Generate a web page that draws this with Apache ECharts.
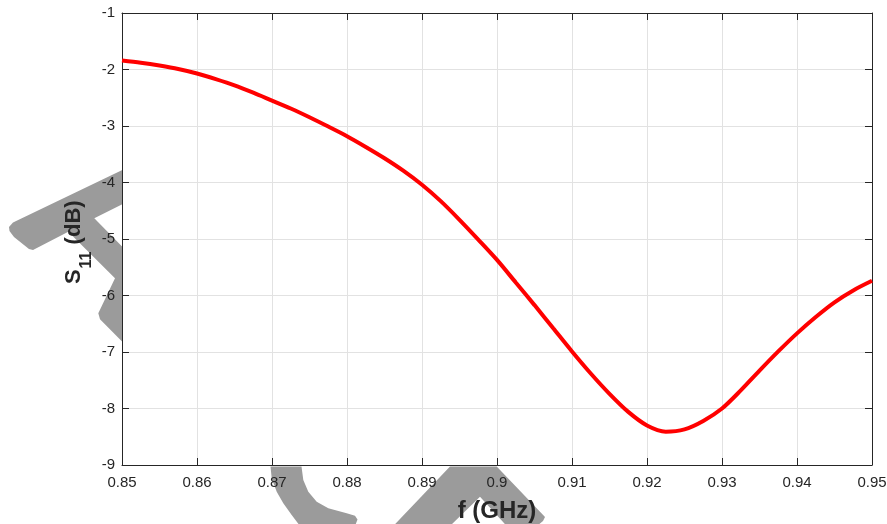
<!DOCTYPE html>
<html>
<head>
<meta charset="utf-8">
<script src="https://cdn.jsdelivr.net/npm/echarts@6/dist/echarts.min.js"></script>
<style>
  html, body { margin: 0; padding: 0; background: #ffffff; overflow: hidden; }
  #chart { width: 887px; height: 524px; }
</style>
</head>
<body>
<div id="chart"></div>
<script>
// Reflection coefficient S11 versus frequency
const freqGHz = [0.85, 0.8525, 0.855, 0.8575, 0.86, 0.8625, 0.865, 0.8675, 0.87, 0.8725,
                 0.875, 0.8775, 0.88, 0.8825, 0.885, 0.8875, 0.89, 0.8925, 0.895, 0.8975,
                 0.90, 0.9025, 0.905, 0.9075, 0.91, 0.9125, 0.915, 0.9175, 0.92, 0.9225,
                 0.925, 0.9275, 0.93, 0.9325, 0.935, 0.9375, 0.94, 0.9425, 0.945, 0.9475, 0.95];
const s11dB = [-1.84, -1.88, -1.93, -1.99, -2.07, -2.17, -2.28, -2.41, -2.55, -2.69,
               -2.845, -3.01, -3.18, -3.37, -3.57, -3.79, -4.04, -4.33, -4.66, -5.01,
               -5.37, -5.77, -6.17, -6.58, -6.99, -7.38, -7.74, -8.06, -8.30, -8.41,
               -8.37, -8.22, -8.00, -7.68, -7.33, -6.99, -6.67, -6.38, -6.12, -5.91, -5.74];

// Axis ranges and tick spacing
const xRange = [0.85, 0.95];
const xStep = 0.01;
const yRange = [-9, -1];
const yStep = 1;

const FONT = '"Liberation Sans", Arial, Helvetica, sans-serif';
const INK = '#262626';
const GRID = '#e2e2e2';
const SHADE = '#9b9b9b';

const chart = echarts.init(document.getElementById('chart'), null, { renderer: 'canvas' });

const points = freqGHz.map((f, i) => [f, s11dB[i]]);

// Grey background emblem pieces around the plot frame
const emblem = [
  [[13, 222.5], [122.3, 170], [122.3, 204.3], [94.3, 218.3], [122.3, 246.7], [122.3, 341.7],
   [100, 319.3], [98.3, 313.3], [115, 278.3], [68.3, 231.7], [33, 250], [29, 249],
   [14, 237], [9.5, 231], [9, 227]],
  [[270.5, 466.5], [301.5, 466.5], [303.3, 480], [308.3, 491.7], [316.7, 501.7], [328.3, 508.3],
   [346.7, 513.3], [355, 515.7], [357.5, 519.5], [355, 526], [300, 526], [291.7, 515],
   [283.3, 503.3], [276.7, 491.7], [271.7, 478.3]],
  [[393.3, 526], [450, 466.5], [496.7, 466.5], [540, 511.7], [545, 517], [543, 521], [537, 526],
   [506.7, 526], [480, 496.7], [450, 526]]
];

const tickStyle = { show: true, inside: true, length: 7, lineStyle: { color: INK, width: 1 } };
const lineStyle = { show: true, onZero: false, lineStyle: { color: INK, width: 1 } };

const sideAxisCommon = {
  type: 'value',
  axisLine: lineStyle,
  axisTick: tickStyle,
  splitLine: { show: false },
  axisLabel: { show: false }
};

chart.setOption({
  backgroundColor: '#ffffff',
  animation: false,
  grid: {
    left: 122, top: 13, width: 750, height: 452,
    containLabel: false,
    outerBoundsMode: 'none'
  },
  xAxis: [
    {
      type: 'value',
      position: 'bottom',
      min: xRange[0], max: xRange[1], interval: xStep,
      name: 'f (GHz)',
      nameLocation: 'middle',
      nameGap: 34,
      nameTextStyle: { fontFamily: FONT, fontWeight: 'bold', fontSize: 24, color: INK },
      axisLine: lineStyle,
      axisTick: tickStyle,
      axisLabel: {
        fontFamily: FONT, fontSize: 15, color: INK, margin: 10,
        formatter: v => String(parseFloat(v.toFixed(3)))
      },
      splitLine: { show: true, lineStyle: { color: GRID, width: 1 } }
    },
    Object.assign({}, sideAxisCommon, {
      position: 'top', min: xRange[0], max: xRange[1], interval: xStep
    })
  ],
  yAxis: [
    {
      type: 'value',
      position: 'left',
      min: yRange[0], max: yRange[1], interval: yStep,
      axisLine: lineStyle,
      axisTick: tickStyle,
      axisLabel: { fontFamily: FONT, fontSize: 15, color: INK, margin: 7, padding: [4, 0, 0, 0] },
      splitLine: { show: true, lineStyle: { color: GRID, width: 1 } }
    },
    Object.assign({}, sideAxisCommon, {
      position: 'right', min: yRange[0], max: yRange[1], interval: yStep
    })
  ],
  graphic: [
    ...emblem.map(pts => ({
      type: 'polygon',
      z: -10,
      silent: true,
      shape: { points: pts },
      style: { fill: SHADE }
    })),
    {
      // vertical axis title with subscript
      type: 'group',
      x: 81,
      y: 242,
      rotation: Math.PI / 2,
      z: 10,
      children: [
        { type: 'text', style: { text: 'S', x: -42, y: -7.3, font: 'bold 22px ' + FONT, fill: INK, align: 'left', verticalAlign: 'middle' } },
        { type: 'text', style: { text: '11', x: -26.5, y: 5.8, font: 'bold 16px ' + FONT, fill: INK, align: 'left', verticalAlign: 'middle' } },
        { type: 'text', style: { text: ' (dB)', x: -8.5, y: -7.3, font: 'bold 22px ' + FONT, fill: INK, align: 'left', verticalAlign: 'middle' } }
      ]
    }
  ],
  series: [
    {
      type: 'line',
      data: points,
      smooth: 0.3,
      showSymbol: false,
      symbol: 'none',
      lineStyle: { color: '#ff0000', width: 4 },
      z: 5
    }
  ]
});
</script>
</body>
</html>
